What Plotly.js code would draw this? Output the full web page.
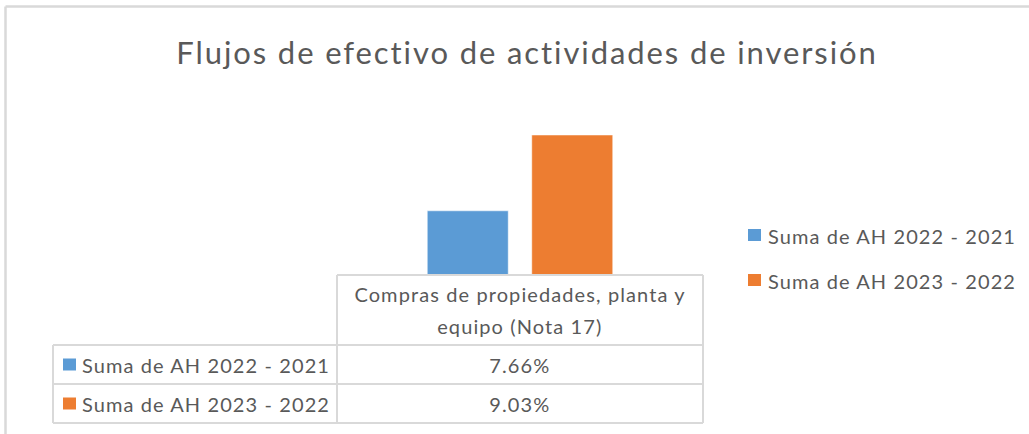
<!DOCTYPE html>
<html>
<head>
<meta charset="utf-8">
<script src="https://cdn.plot.ly/plotly-3.0.1.min.js"></script>
<style>
html,body{margin:0;padding:0;background:#fff;}
#chart{width:1029px;height:434px;}
#chart .gtitle{letter-spacing:1.9px;}
#chart .annotation-text{letter-spacing:1.1px;}
</style>
</head>
<body>
<div id="chart"></div>
<script>
const chartTitle = "Flujos de efectivo de actividades de inversión";
const categories = ["Compras de propiedades, planta y equipo (Nota 17)"];
const categoryLabelLines = ["Compras de propiedades, planta y", "equipo (Nota 17)"];
const seriesNames = ["Suma de AH 2022 - 2021", "Suma de AH 2023 - 2022"];
const ah2022vs2021 = [7.66];
const ah2023vs2022 = [9.03];
const seriesColors = ["#5B9BD5", "#ED7D31"];

const W = 1029, H = 434;
const fx = x => x / W;
const fy = y => 1 - y / H;
const FONT = "Lato, 'Noto Sans', sans-serif";
const TXT = "#595959";
const GRID = "#D9D9D9";
const FS = 20;

const seriesValues = [ah2022vs2021, ah2023vs2022];

const traces = seriesValues.map((vals, i) => ({
  type: "bar",
  name: seriesNames[i],
  x: categories,
  y: vals,
  marker: {color: seriesColors[i], line: {color: "rgba(255,255,255,0.5)", width: 1}},
  hoverinfo: "skip",
  showlegend: false
}));

function line(x0, y0, x1, y1, w) {
  return {type: "line", xref: "paper", yref: "paper",
    x0: fx(x0), y0: fy(y0), x1: fx(x1), y1: fy(y1),
    line: {color: GRID, width: w || 2}};
}
function square(cx, cy, color) {
  return {type: "rect", xref: "paper", yref: "paper",
    x0: fx(cx - 6.5), x1: fx(cx + 6.5), y0: fy(cy + 6), y1: fy(cy - 6),
    fillcolor: color, line: {width: 0}};
}

const shapes = [
  // outer chart frame
  line(5.5, 6.5, 1029, 6.5, 2.5),
  line(5.5, 6.5, 5.5, 434, 2.5),
  // data table
  line(337, 275, 703, 275),
  line(337, 275, 337, 423),
  line(703, 275, 703, 423),
  line(53, 345, 703, 345),
  line(53, 384, 703, 384),
  line(53, 423, 703, 423),
  line(53, 345, 53, 423)
];

const annotations = [];
const legendRowY = [236, 281];
const tableRowY = [364.5, 403.5];
seriesNames.forEach((nm, i) => {
  shapes.push(square(754.5, legendRowY[i] - 1, seriesColors[i]));
  annotations.push({xref: "paper", yref: "paper", x: fx(892), y: fy(legendRowY[i]),
    xanchor: "center", yanchor: "middle", showarrow: false, text: nm,
    font: {family: FONT, size: FS, color: TXT}});
  shapes.push(square(69.5, tableRowY[i], seriesColors[i]));
  annotations.push({xref: "paper", yref: "paper", x: fx(206), y: fy(tableRowY[i]),
    xanchor: "center", yanchor: "middle", showarrow: false, text: nm,
    font: {family: FONT, size: FS, color: TXT}});
  annotations.push({xref: "x", yref: "paper", x: categories[0], y: fy(tableRowY[i]),
    xanchor: "center", yanchor: "middle", showarrow: false,
    text: seriesValues[i][0].toFixed(2) + "%",
    font: {family: FONT, size: FS, color: TXT}});
});
const headerY = [294, 326];
categoryLabelLines.forEach((t, j) => {
  annotations.push({xref: "x", yref: "paper", x: categories[0], y: fy(headerY[j]),
    xanchor: "center", yanchor: "middle", showarrow: false, text: t,
    font: {family: FONT, size: FS, color: TXT}});
});

const layout = {
  width: W, height: H,
  margin: {l: 0, r: 0, t: 0, b: 0},
  paper_bgcolor: "#fff", plot_bgcolor: "rgba(0,0,0,0)",
  title: {text: chartTitle, x: fx(527), xanchor: "center", y: fy(53), yanchor: "middle",
    font: {family: FONT, size: 31, color: TXT}},
  barmode: "group",
  bargap: 0.429,
  bargroupgap: 0.225,
  xaxis: {domain: [fx(337), fx(703)], showticklabels: false, showgrid: false,
    zeroline: false, showline: false, ticks: "", fixedrange: true},
  yaxis: {domain: [fy(275), fy(109)], range: [6.5, 9.5], visible: false, fixedrange: true},
  showlegend: false,
  shapes: shapes,
  annotations: annotations
};

Plotly.newPlot("chart", traces, layout, {staticPlot: true, displayModeBar: false});
</script>
</body>
</html>
